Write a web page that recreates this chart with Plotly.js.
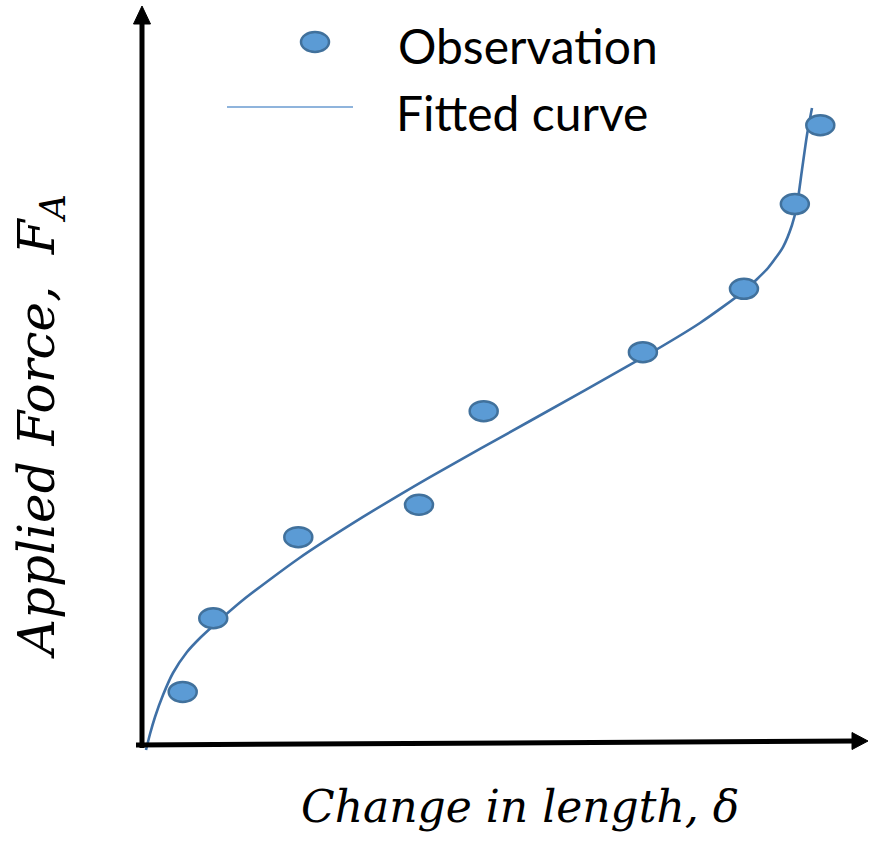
<!DOCTYPE html>
<html>
<head>
<meta charset="utf-8">
<script src="https://cdn.plot.ly/plotly-3.0.1.min.js"></script>
<style>html,body{margin:0;padding:0;background:#fff;}#chart{width:869px;height:843px;}</style>
</head>
<body>
<div id="chart"></div>
<script>
// Observations (change in length, applied force) in arbitrary units
const obsX = [5.6, 9.8, 21.5, 38.1, 47.0, 68.9, 82.8, 89.8, 93.3];
const obsY = [7.2, 17.2, 28.2, 32.6, 45.3, 53.3, 61.9, 73.4, 84.1];
// Fitted curve
const fitX = [0.55, 1.10, 1.79, 2.89, 4.26, 6.19, 7.98, 9.77, 13.89, 21.46, 30.40, 39.61, 53.37, 68.91, 76.75, 82.81, 86.11, 88.17, 89.41, 90.10, 90.78, 91.47, 92.16];
const fitY = [-0.68, 1.49, 3.80, 6.78, 9.77, 12.62, 14.52, 16.15, 19.67, 25.24, 30.94, 36.36, 43.96, 52.58, 57.26, 61.60, 64.72, 67.57, 70.56, 73.27, 78.02, 82.77, 86.43];
const legendNames = ["Observation", "Fitted curve"];
const xTitle = "Change in length, δ";
const yTitle = "Applied Force,  F<sub>A</sub>";

const W = 869, H = 843, L = 142, R = 0, T = 8, B = 90;
const pw = W - L - R, ph = H - T - B;
const px = p => (p - L) / pw;          // page pixel -> paper x
const py = p => (H - B - p) / ph;      // page pixel -> paper y

const fillC = '#5B9BD5', edgeC = '#41719C', curveC = '#3F70A6';

const traces = [
  {x: fitX, y: fitY, mode: 'lines', line: {color: curveC, width: 2.6, shape: 'spline', smoothing: 0.6},
   name: legendNames[1], cliponaxis: false, hoverinfo: 'skip'},
  {x: obsX, y: obsY, mode: 'markers', marker: {size: 1, opacity: 0}, name: legendNames[0], cliponaxis: false}
];

const shapes = [];
// axes with arrow heads
shapes.push({type: 'line', xref: 'paper', yref: 'paper', x0: px(142), x1: px(142), y0: py(748), y1: py(20),
  line: {color: '#000', width: 5}});
shapes.push({type: 'path', xref: 'paper', yref: 'paper', fillcolor: '#000', line: {color: '#000', width: 1},
  path: `M${px(142)},${py(6)} L${px(133.5)},${py(24)} L${px(150.5)},${py(24)} Z`});
shapes.push({type: 'line', xref: 'paper', yref: 'paper', x0: px(136), x1: px(856), y0: py(745), y1: py(741),
  line: {color: '#000', width: 5}});
shapes.push({type: 'path', xref: 'paper', yref: 'paper', fillcolor: '#000', line: {color: '#000', width: 1},
  path: `M${px(868)},${py(741)} L${px(852)},${py(732.5)} L${px(852)},${py(749.5)} Z`});

obsX.forEach((x, i) => shapes.push({
  type: 'circle', xref: 'x', yref: 'y', xsizemode: 'pixel', ysizemode: 'pixel',
  xanchor: x, yanchor: obsY[i], x0: -14, x1: 14, y0: -10, y1: 10,
  fillcolor: fillC, line: {color: edgeC, width: 2.5}, layer: 'above'
}));
// legend symbols
shapes.push({type: 'circle', xref: 'paper', yref: 'paper', x0: px(301), x1: px(329), y0: py(52), y1: py(32),
  fillcolor: fillC, line: {color: edgeC, width: 2.5}});
shapes.push({type: 'line', xref: 'paper', yref: 'paper', x0: px(227), x1: px(353), y0: py(107), y1: py(107),
  line: {color: '#6A9BD0', width: 1.6}});

const legendFont = {family: 'Lato, "Open Sans", sans-serif', size: 48, color: '#000'};
const titleFont = {family: '"DejaVu Serif", serif', style: 'italic', color: '#000'};

const annotations = [
  // legend text
  {xref: 'paper', yref: 'paper', x: px(396), y: py(46), xanchor: 'left', yanchor: 'middle', showarrow: false,
   text: legendNames[0], font: legendFont},
  {xref: 'paper', yref: 'paper', x: px(394), y: py(112), xanchor: 'left', yanchor: 'middle', showarrow: false,
   text: legendNames[1], font: legendFont},
  // axis titles
  {xref: 'paper', yref: 'paper', x: px(520), y: py(806), xanchor: 'center', yanchor: 'middle', showarrow: false,
   text: xTitle, font: Object.assign({size: 44}, titleFont)},
  {xref: 'paper', yref: 'paper', x: px(40), y: py(427), xanchor: 'center', yanchor: 'middle', showarrow: false,
   textangle: -90, text: yTitle, font: Object.assign({size: 50}, titleFont)}
];

const layout = {
  width: W, height: H, margin: {l: L, r: R, t: T, b: B},
  paper_bgcolor: '#fff', plot_bgcolor: '#fff', showlegend: false,
  xaxis: {range: [0, 100], visible: false, fixedrange: true},
  yaxis: {range: [-(753 - 745) / 7.37, 100], visible: false, fixedrange: true},
  shapes: shapes, annotations: annotations
};

Plotly.newPlot('chart', traces, layout, {displayModeBar: false, staticPlot: true});
</script>
</body>
</html>
